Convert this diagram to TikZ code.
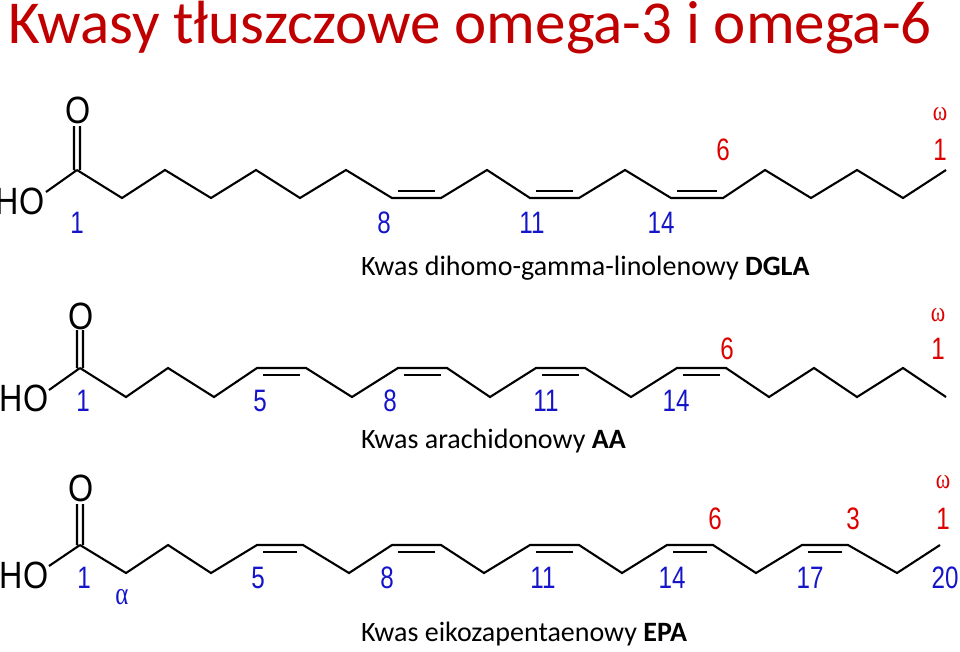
\documentclass[tikz,border=0pt]{standalone}
\usepackage{fontspec}
\setmainfont{Carlito}
\newfontfamily\arialf{Liberation Sans}
\newfontfamily\greekf{Liberation Serif}
\definecolor{titlered}{RGB}{192,0,0}
\definecolor{numblue}{RGB}{20,20,200}
\definecolor{numred}{RGB}{220,0,0}
\begin{document}
\begin{tikzpicture}[x=1pt,y=-1pt,
  bond/.style={line width=2.1pt,line join=miter},
  bl/.style={numblue,font=\arialf\fontsize{31}{31}\selectfont,xscale=0.78,inner sep=0},
  rd/.style={numred,font=\arialf\fontsize{31}{31}\selectfont,xscale=0.78,inner sep=0},
  atom/.style={font=\arialf\fontsize{38}{38}\selectfont,xscale=0.85,inner sep=0},
  captxt/.style={font=\fontsize{28}{28}\selectfont,anchor=west,inner sep=0}]
\useasboundingbox (0,0) rectangle (960,651);
\node[titlered,font=\fontsize{61}{61}\selectfont,anchor=west,inner sep=0] (title) at (8,28) {Kwasy tłuszczowe omega-3 i omega-6};
% chain 1
\draw[bond] plot coordinates {(77,170)(122,198)(165,170)(211,198)(256,170)(300,198)(346,170)(392,198)(441,198)(487,170)(530,198)(579,198)(625,170)(671,198)(723,198)(765,170)(811,198)(857,170)(903,198)(946,170)};
\foreach \a/\b in {392/441,530/579,671/723}{\draw[bond] (\a+6,191)--(\b-6,191);}
\draw[bond] (74,170)--(74,126) (80,170)--(80,126) (77,170)--(46,192);
\node[atom] (o1) at (78,110) {O};
\node[atom] (ho1) at (20,201) {HO};
\node[bl] (n1a) at (77,223) {1};
\node[bl] (n1b) at (384,223) {8};
\node[bl] (n1c) at (532,223) {11};
\node[bl] (n1d) at (661,223) {14};
\node[rd] (r1a) at (723,150) {6};
\node[rd] (r1b) at (940,150) {1};
\node[rd,font=\greekf\fontsize{28}{28}\selectfont] (w1) at (940,114) {ω};
\node[captxt] (c1) at (361,268) {Kwas dihomo-gamma-linolenowy \textbf{DGLA}};
% chain 2
\draw[bond] plot coordinates {(80,368)(126,397)(168,368)(214,397)(257,368)(306,368)(352,397)(398,368)(447,368)(490,397)(536,368)(585,368)(631,397)(677,368)(726,368)(769,397)(814,368)(857,397)(903,368)(946,397)};
\foreach \a/\b in {257/306,398/447,536/585,677/726}{\draw[bond] (\a+6,375)--(\b-6,375);}
\draw[bond] (77,368)--(77,330) (83,368)--(83,330) (80,368)--(49,390);
\node[atom] (o2) at (81,316) {O};
\node[atom] (ho2) at (24,398) {HO};
\node[bl] (n2a) at (83,401) {1};
\node[bl] (n2b) at (260,401) {5};
\node[bl] (n2c) at (390,401) {8};
\node[bl] (n2d) at (546,401) {11};
\node[bl] (n2e) at (676,401) {14};
\node[rd] (r2a) at (727,349) {6};
\node[rd] (r2b) at (938,349) {1};
\node[rd,font=\greekf\fontsize{28}{28}\selectfont] (w2) at (938,315) {ω};
\node[captxt] (c2) at (361,441) {Kwas arachidonowy \textbf{AA}};
% chain 3
\draw[bond] plot coordinates {(80,545)(126,573)(168,545)(211,573)(257,545)(303,545)(349,573)(392,545)(441,545)(484,573)(530,545)(579,545)(622,573)(667,545)(713,545)(756,573)(802,545)(848,545)(897,573)(940,545)};
\foreach \a/\b in {257/303,392/441,530/579,667/713,802/848}{\draw[bond] (\a+6,552)--(\b-6,552);}
\draw[bond] (77,545)--(77,504) (83,545)--(83,504) (80,545)--(49,566);
\node[atom] (o3) at (81,488) {O};
\node[atom] (ho3) at (24,575) {HO};
\node[bl] (n3a) at (84,578) {1};
\node[bl,font=\greekf\fontsize{32}{32}\selectfont] (n3al) at (122,597) {α};
\node[bl] (n3b) at (258,578) {5};
\node[bl] (n3c) at (387,578) {8};
\node[bl] (n3d) at (543,578) {11};
\node[bl] (n3e) at (672,578) {14};
\node[bl] (n3f) at (810,578) {17};
\node[bl] (n3g) at (945,578) {20};
\node[rd] (r3a) at (715,519) {6};
\node[rd] (r3b) at (853,519) {3};
\node[rd] (r3c) at (943,519) {1};
\node[rd,font=\greekf\fontsize{28}{28}\selectfont] (w3) at (943,482) {ω};
\node[captxt] (c3) at (361,634) {Kwas eikozapentaenowy \textbf{EPA}};
\end{tikzpicture}
\end{document}
